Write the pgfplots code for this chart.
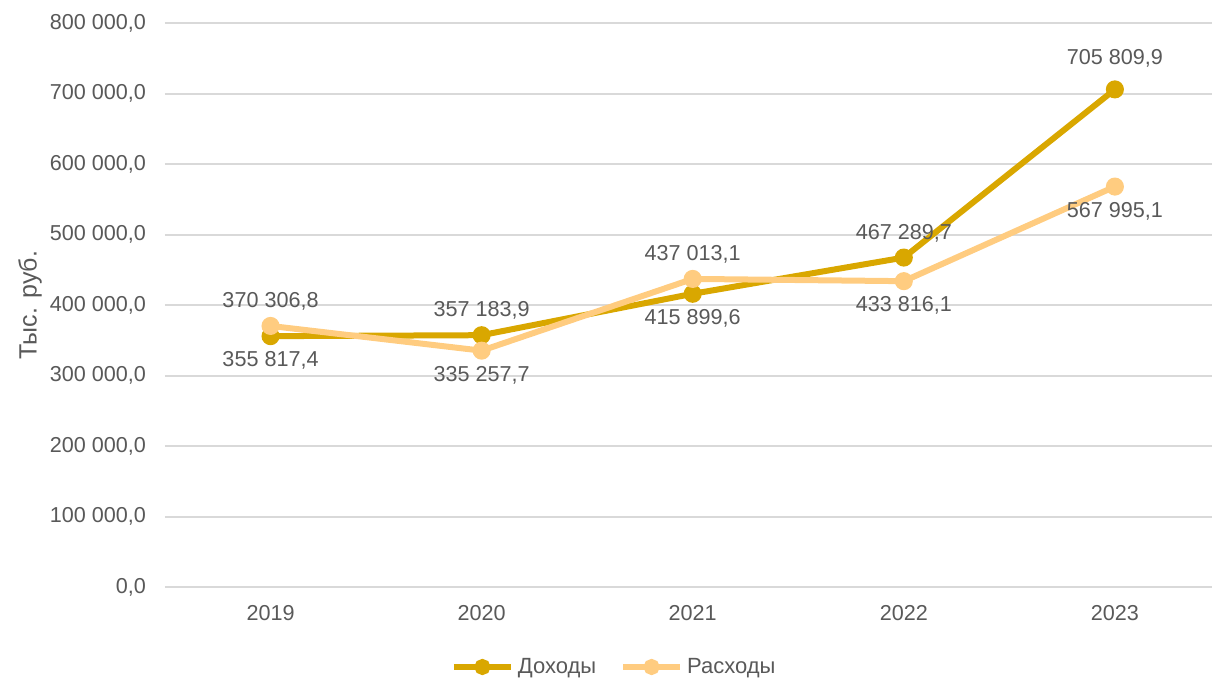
\documentclass[border=0pt]{standalone}
\usepackage{fontspec}
\setmainfont{Liberation Sans}
\usepackage{pgfplots}
\pgfplotsset{compat=1.18}
\definecolor{dox}{HTML}{D9A700}
\definecolor{rasx}{HTML}{FFCC80}
\definecolor{txt}{HTML}{595959}
\definecolor{grd}{HTML}{D9D9D9}
\begin{document}
\begin{tikzpicture}
\useasboundingbox (-82.5pt,-47pt) rectangle (523.5pt,293.5pt);
\begin{axis}[
  at={(0,0)}, anchor=south west,
  scale only axis, width=523.5pt, height=282pt,
  xmin=-0.5, xmax=4.46, ymin=0, ymax=800000,
  scaled y ticks=false,
  xtick={0,1,2,3,4}, xticklabels={2019,2020,2021,2022,2023},
  ytick={0,100000,200000,300000,400000,500000,600000,700000,800000},
  yticklabels={{0,0},{100 000,0},{200 000,0},{300 000,0},{400 000,0},{500 000,0},{600 000,0},{700 000,0},{800 000,0}},
  axis line style={draw=none},
  tick style={draw=none},
  ymajorgrids, grid style={grd, line width=1pt},
  clip=false,
  ticklabel style={font=\fontsize{10.8}{13}\selectfont, text=txt},
  yticklabel style={xshift=-6pt},
  xticklabel style={yshift=-5.5pt},
  ylabel={Тыс. руб.},
  every axis y label/.style={at={(-67.5pt,141pt)}, rotate=90, anchor=center, font=\fontsize{12.5}{15}\selectfont, text=txt},
  legend style={draw=none, at={(0.43,-40pt)}, anchor=center, legend columns=2,
    font=\fontsize{11}{13}\selectfont, text=txt,
    /tikz/every even column/.append style={column sep=10pt}},
  legend image code/.code={\draw[mark repeat=2,mark phase=2,#1,mark size=2.5pt] plot coordinates {(0cm,0cm) (0.5cm,0cm) (1cm,0cm)};},
  nodes near coords,
  point meta=explicit symbolic,
  visualization depends on={value \thisrow{anc}\as\myanchor},
  visualization depends on={value \thisrow{dy}\as\mydy},
  every node near coord/.append style={anchor=\myanchor, yshift=\mydy pt, font=\fontsize{10.8}{13}\selectfont, text=txt},
]
\addplot[dox, line width=3pt, mark=*, mark size=3pt, mark options={fill=dox, draw=none}]
  table[col sep=semicolon, x=x, y=y, meta=lab] {
x;y;lab;anc;dy
0;355817.4;355 817,4;north;-3
1;357183.9;357 183,9;south;3
2;415899.6;415 899,6;north;-3
3;467289.7;467 289,7;south;3
4;705809.9;705 809,9;south;6
};
\addlegendentry{Доходы}
\addplot[rasx, line width=3pt, mark=*, mark size=3pt, mark options={fill=rasx, draw=none}]
  table[col sep=semicolon, x=x, y=y, meta=lab] {
x;y;lab;anc;dy
0;370306.8;370 306,8;south;3
1;335257.7;335 257,7;north;-3
2;437013.1;437 013,1;south;3
3;433816.1;433 816,1;north;-3
4;567995.1;567 995,1;north;-3
};
\addlegendentry{Расходы}
\end{axis}
\end{tikzpicture}
\end{document}
